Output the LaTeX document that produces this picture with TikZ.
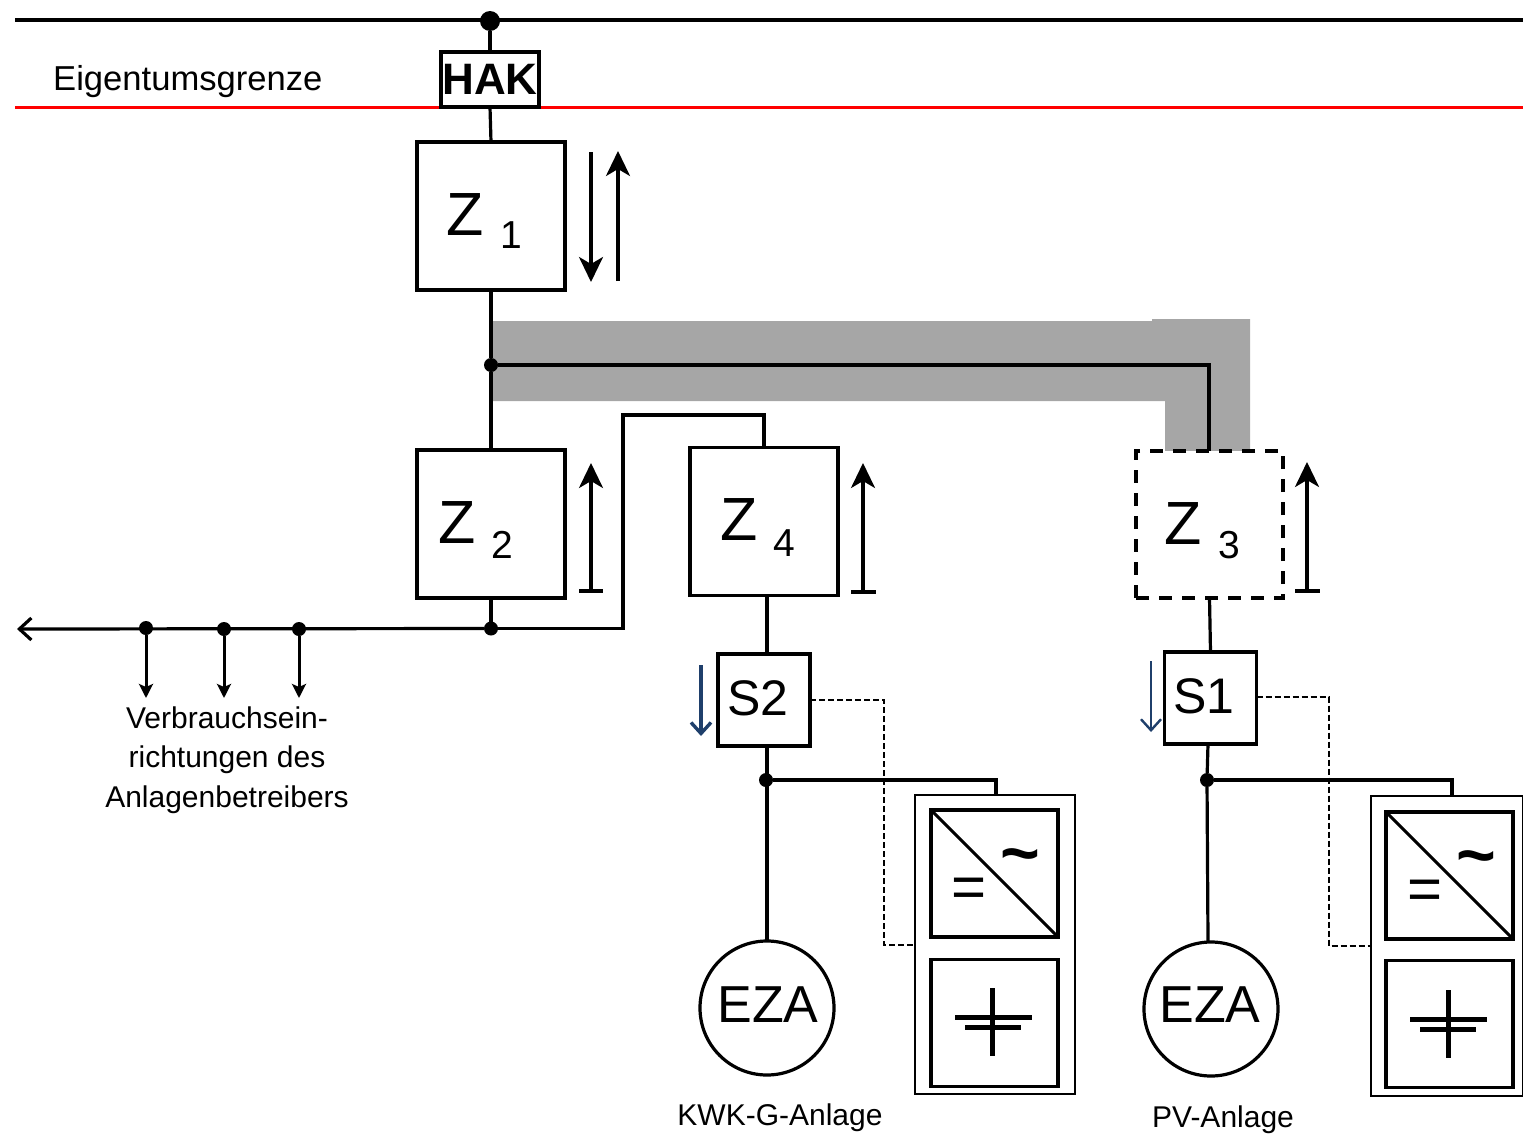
\documentclass[tikz,border=0pt]{standalone}
\usepackage{fontspec}
\setmainfont{Liberation Sans}
\usetikzlibrary{arrows.meta}
\definecolor{bandgray}{HTML}{A6A6A6}
\definecolor{bluearrow}{HTML}{1F3F6B}
\newcommand{\fs}[1]{\fontsize{#1}{#1}\selectfont}
\tikzset{
  x=1pt,y=-1pt,
  wire/.style={draw=black,line width=3.2pt},
  dot/.style={circle,fill=black,inner sep=0pt,outer sep=0pt,minimum size=#1},
  boxbase/.style={draw=black,line width=3.2pt,fill=white,inner sep=0pt,outer sep=0pt},
  meter/.style={boxbase,minimum width=148pt,minimum height=148pt},
  ctrl/.style={boxbase,minimum width=92pt,minimum height=92pt},
  casing/.style={draw=black,line width=2.2pt,fill=white,inner sep=0pt,outer sep=0pt,minimum width=#1},
  unit/.style={draw=black,line width=3.6pt,inner sep=0pt,outer sep=0pt,minimum width=127pt,minimum height=127pt},
  genset/.style={circle,draw=black,line width=3.2pt,fill=white,inner sep=0pt,outer sep=0pt,minimum size=134pt},
  big/.style={inner sep=0pt,outer sep=0pt,anchor=base west,font=\fs{61}},
  small/.style={inner sep=0pt,outer sep=0pt,anchor=base west,font=\fs{39}},
  label/.style={inner sep=0pt,outer sep=0pt,anchor=base,font=\fs{30}},
  ctrltext/.style={inner sep=0pt,outer sep=0pt,anchor=base west,font=\fs{50}},
  ezatext/.style={inner sep=0pt,outer sep=0pt,anchor=base,font=\fs{52}},
  flow/.style={draw=black,line width=3.2pt,-{Stealth[length=25pt,width=24pt,inset=7pt]}},
  tapflow/.style={draw=black,line width=3pt,-{Stealth[length=14pt,width=14pt,inset=3pt]}},
  bluetip/.style={draw=bluearrow,line width=#1,-{Straight Barb[length=11pt,width=20pt]}},
  signal/.style={draw=black,line width=2.2pt,dash pattern=on 6pt off 3pt},
  batline/.style={line width=5pt},
}
\begin{document}
\begin{tikzpicture}
\useasboundingbox (0,0) rectangle (1523,1135);
\clip (0,0) rectangle (1523,1135);
% grey duct
\fill[bandgray] (491,321) -- (1152,321) -- (1152,319) -- (1250,319) -- (1250,451) -- (1165,451) -- (1165,401) -- (491,401) -- cycle;

% bus lines
\coordinate (busL) at (15,20);
\coordinate (busR) at (1523,20);
\coordinate (redL) at (15,107.5);
\coordinate (redR) at (1523,107.5);
\draw[wire] (busL) -- (busR);
\draw[draw=red,line width=3.2pt] (redL) -- (redR);

% nodes
\node[dot=20pt] (top) at (490,21) {};
\node[boxbase,minimum width=98pt,minimum height=55pt,font=\fs{44}\bfseries] (HAK) at (490,79.5) {HAK};
\node[meter] (Z1) at (491,216) {};
\node[meter] (Z2) at (491,524) {};
\node[meter] (Z4) at (764,521.5) {};
\node[boxbase,minimum width=147pt,minimum height=147pt,dash pattern=on 13pt off 10pt] (Z3) at (1209.5,524.5) {};
\node[ctrl] (S2) at (764,700) {};
\node[ctrl] (S1) at (1210.5,698) {};
\node[genset] (EZA2) at (767,1008) {};
\node[genset] (EZA1) at (1211,1009) {};
\node[ctrltext] (s2t) at (727.5,715) {S2};
\node[ctrltext] (s1t) at (1173,713) {S1};
\node[ezatext] (e2t) at (768,1022) {EZA};
\node[ezatext] (e1t) at (1210,1022) {EZA};

\node[anchor=base west,inner sep=0pt,font=\fs{34.6}] (eigen) at (53,90) {Eigentumsgrenze};
\node[big] (z1a) at (446,235) {Z};
\node[small] (z1b) at (500,248) {1};
\node[big] (z2a) at (438,543) {Z};
\node[small] (z2b) at (491,558) {2};
\node[big] (z4a) at (720,540) {Z};
\node[small] (z4b) at (773,556) {4};
\node[big] (z3a) at (1164,544) {Z};
\node[small] (z3b) at (1218,558) {3};

% junctions
\node[dot=14pt] (j1) at (491,365) {};
\node[dot=14pt] (j2) at (491,628.5) {};
\node[dot=14pt] (t1) at (146,628) {};
\node[dot=14pt] (t2) at (224,629) {};
\node[dot=14pt] (t3) at (299,629) {};
\node[dot=14pt] (j3) at (766,780) {};
\node[dot=14pt] (j4) at (1207,780) {};

% casings
\node[casing=160pt,minimum height=299pt] (case2) at (995,944.5) {};
\node[casing=152pt,minimum height=300pt,anchor=west] (case1) at (1371,946) {};
\node[unit] (inv2) at (994.5,873.5) {};
\node[unit] (bat2) at (994.5,1023) {};
\node[unit] (inv1) at (1449.5,875.5) {};
\node[unit] (bat1) at (1449.5,1024) {};

% converter and battery symbols
\draw[line width=3pt] (inv2.north west) -- (inv2.south east);
\draw[line width=3pt] (inv1.north west) -- (inv1.south east);
\node[inner sep=0pt,font=\fs{60}] (eq2) at (969.5,893) {=};
\node[inner sep=0pt,font=\fs{68}\bfseries] (ti2) at (1020,863) {\textasciitilde};
\node[inner sep=0pt,font=\fs{60}] (eq1) at (1425,895) {=};
\node[inner sep=0pt,font=\fs{68}\bfseries] (ti1) at (1476,865) {\textasciitilde};
\coordinate (b2t) at (992,988); \coordinate (b2b) at (992,1056);
\coordinate (b1t) at (1448,990); \coordinate (b1b) at (1448,1058);
\draw[batline] (b2t) -- (b2b);
\draw[batline] (b1t) -- (b1b);
\draw[batline] (955,1017) -- (1032,1017);
\draw[batline] (965,1027) -- (1021,1027);
\draw[batline] (1410,1019) -- (1487,1019);
\draw[batline] (1420,1029) -- (1476,1029);

% connectors
\draw[wire] (top) -- (HAK.north);
\draw[wire] (HAK.south) -- (Z1.north);
\draw[wire] (Z1.south) -- (j1);
\draw[wire] (j1) -- (Z2.north);
\draw[wire] (j1) -- (1209,365) -- (1209,451);
\draw[wire] (Z2.south) -- (j2);
\draw[wire] (j2) -- (623,628.5) -- (623,415) -- (764,415) -- (Z4.north);
\draw[draw=black,line width=3.2pt,-{Straight Barb[length=12pt,width=22pt]}] (j2) -- (17,629);
\draw[wire] ([xshift=3pt]Z4.south) -- ([xshift=3pt]S2.north);
\draw[wire] ([xshift=3pt]S2.south) -- (EZA2.north);
\draw[wire] (j3) -- (996,780) -- (996,796);
\draw[wire] (Z3.south) -- (S1.north);
\draw[wire] ([xshift=-2.5pt]S1.south) -- (j4) -- (1208,941);
\draw[wire] (j4) -- (1452,780) -- (1452,797);
\draw[signal] (S2.east) -- (884,700) -- (884,945) -- (915,945);
\draw[signal] ([yshift=1pt]S1.east) -- (1329,697) -- (1329,946) -- (1371,946);

% tap arrows
\coordinate (e1) at (146,698); \coordinate (e2) at (224,698); \coordinate (e3) at (299,698);
\draw[tapflow] (t1) -- (e1);
\draw[tapflow] (t2) -- (e2);
\draw[tapflow] (t3) -- (e3);

% flow arrows
\draw[flow] (591,152) -- (591,282);
\draw[flow] (618,281) -- (618,151);
\draw[flow] (591,591) -- (591,463);
\draw[wire] (579,591) -- (603,591);
\draw[flow] (863,592) -- (863,463);
\draw[wire] (851,592) -- (876,592);
\draw[flow] (1307,591) -- (1307,462);
\draw[wire] (1295,591) -- (1320,591);
\draw[bluetip=3.4pt] (701,665) -- (701,736);
\draw[bluetip=2.4pt] (1151,661) -- (1151,732);

% labels
\node[label] (cons1) at (227,728) {Verbrauchsein-};
\node[label] (cons2) at (227,767) {richtungen des};
\node[label] (cons3) at (227,807) {Anlagenbetreibers};
\node[label] (kwk) at (780,1125) {KWK-G-Anlage};
\node[label] (pv) at (1223,1127) {PV-Anlage};
\end{tikzpicture}
\end{document}
